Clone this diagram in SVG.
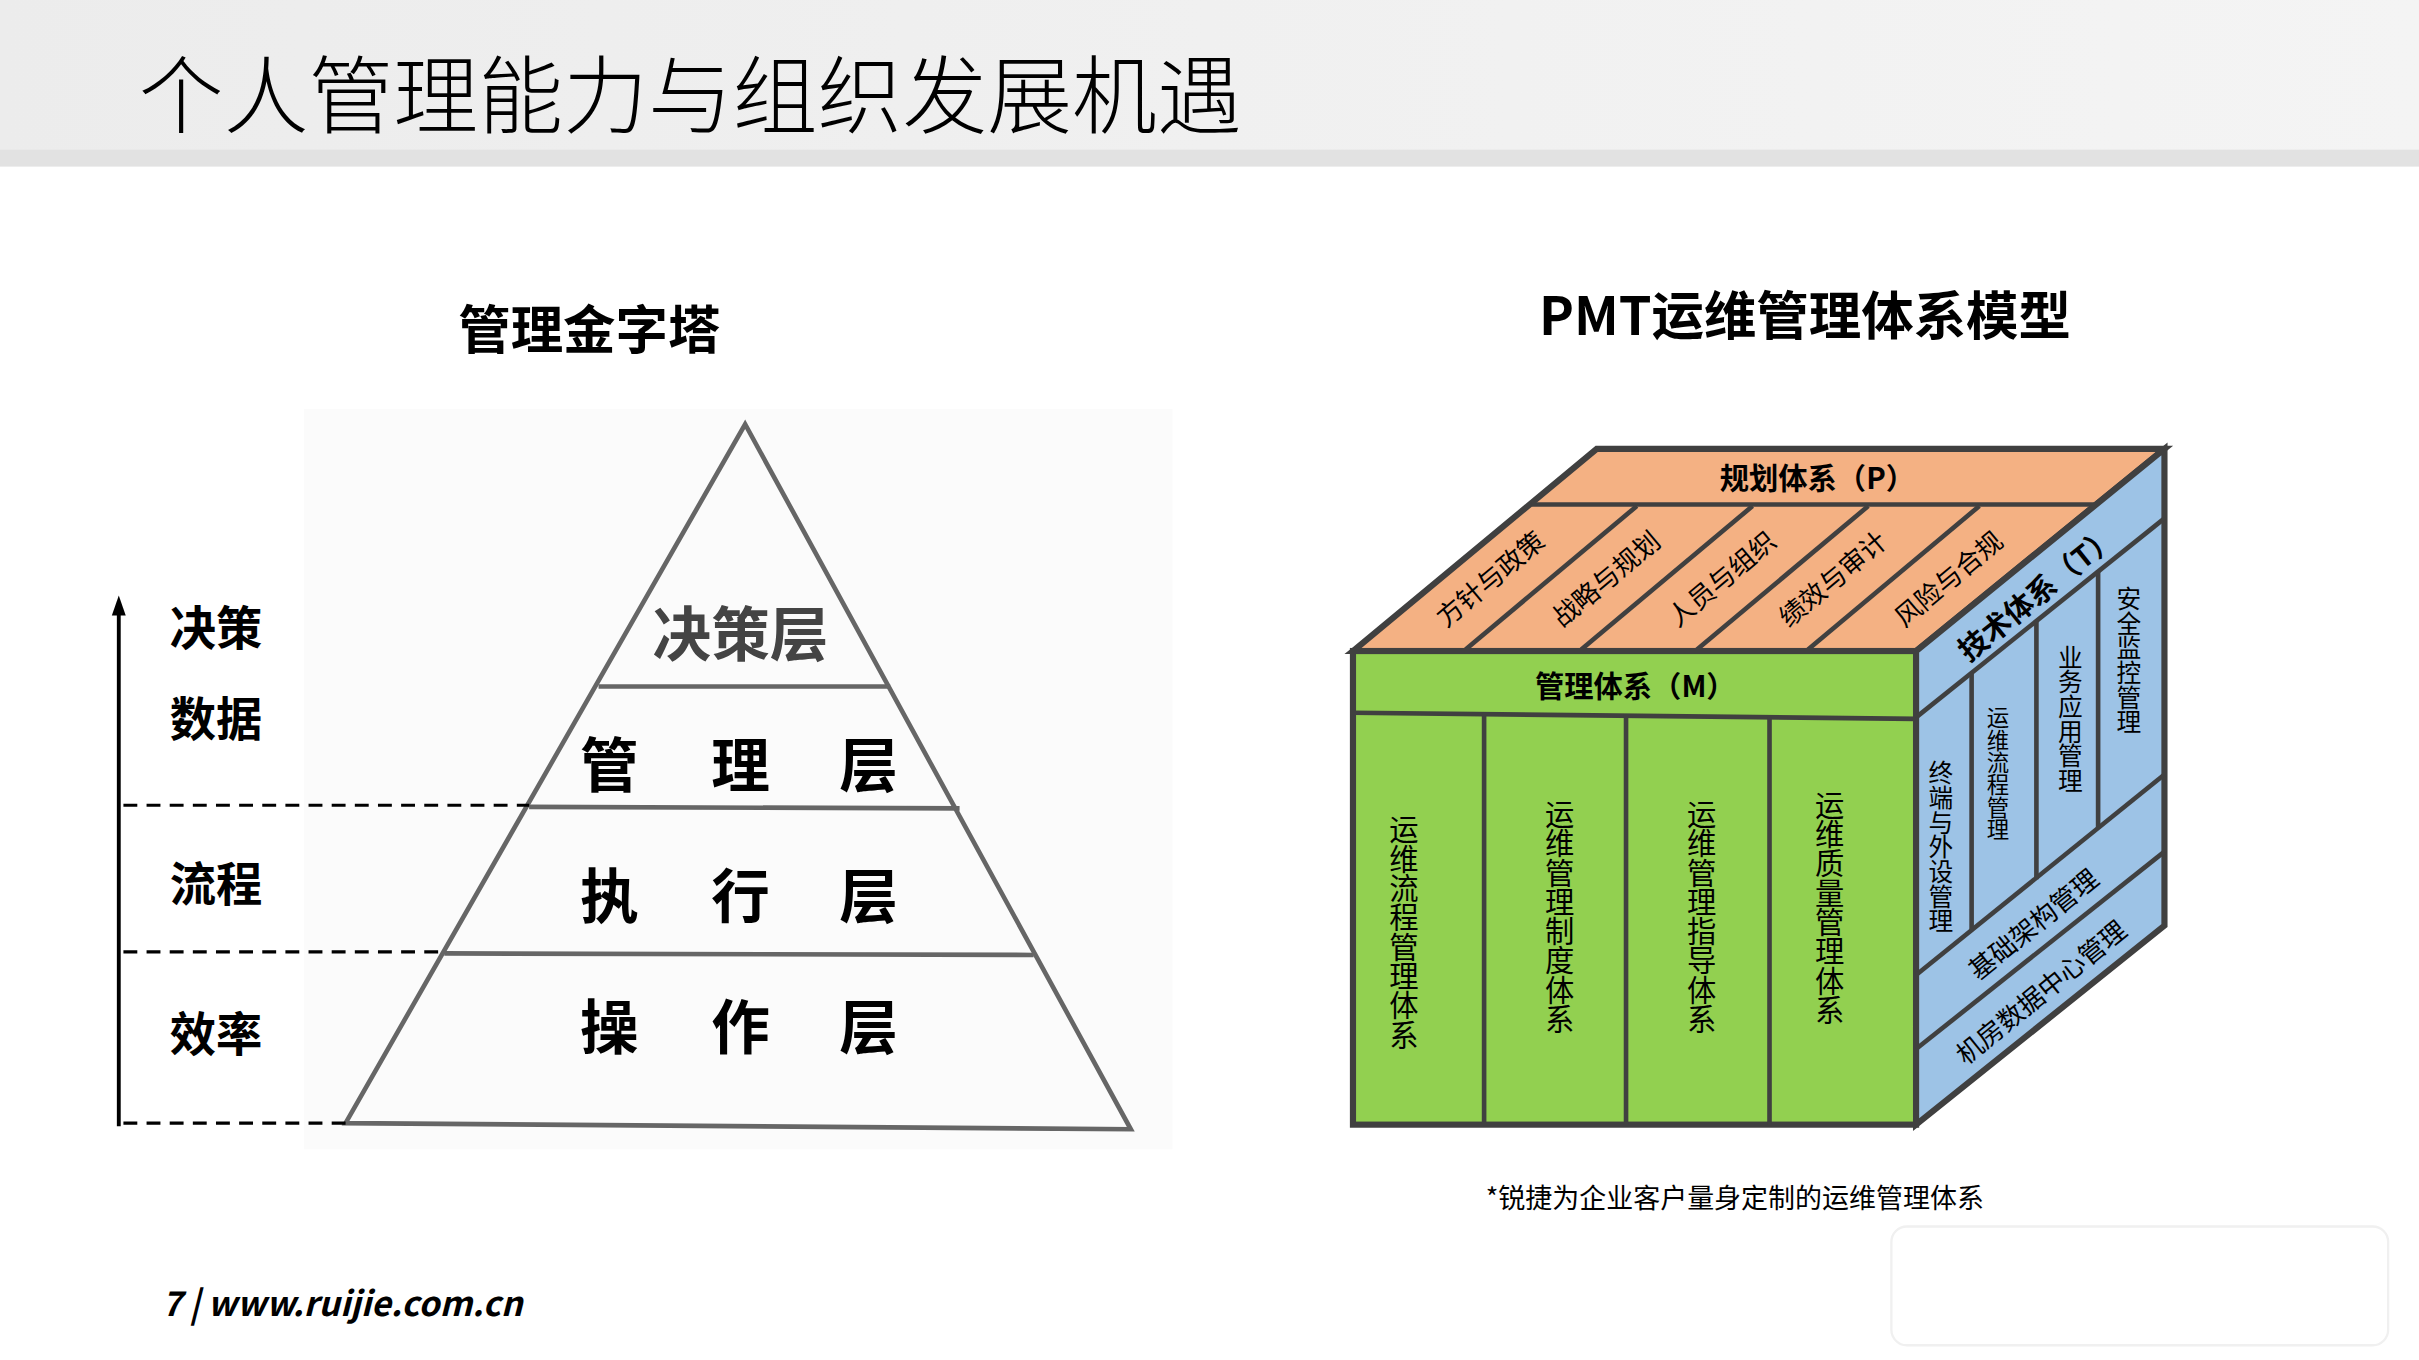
<svg xmlns="http://www.w3.org/2000/svg" width="2419" height="1360" viewBox="0 0 2419 1360">
<defs>
<linearGradient id="hdr" x1="0" y1="0" x2="1" y2="0"><stop offset="0" stop-color="#ececec"/><stop offset="1" stop-color="#f4f4f4"/></linearGradient>
</defs>
<style>
text{font-family:"Noto Sans CJK SC","Noto Sans",sans-serif;fill:#000}
.b{font-weight:700}
.pl{stroke:#666;stroke-width:3;fill:none}
.py{font-size:38px;font-weight:700;fill:#444;text-anchor:middle}
.lb{font-size:30px;font-weight:700}
.dash{stroke:#000;stroke-width:2;stroke-dasharray:9 6}
.edge{stroke:#404040;stroke-width:3;fill:none}
.vt{writing-mode:tb;font-size:19px}
.it{font-size:17px;text-anchor:middle}
</style>
<rect width="2419" height="1360" fill="#fff"/>
<g transform="scale(1.54273)">
<rect x="0" y="0" width="1568" height="100" fill="url(#hdr)"/>
<rect x="0" y="97" width="1568" height="11" fill="#e2e2e2"/>
<text x="90" y="82" font-size="55" font-weight="300">个人管理能力与组织发展机遇</text>
<text x="382" y="226" font-size="34" class="b" text-anchor="middle">管理金字塔</text>
<text x="1170" y="217" font-size="34" class="b" text-anchor="middle">PMT运维管理体系模型</text>

<g id="pyramid">
<rect x="197" y="265" width="563" height="480" fill="#fbfbfb"/>
<path class="pl" d="M224 728 L483 275 L733 732 Z"/>
<line class="pl" x1="388" y1="445" x2="577" y2="445"/>
<line class="pl" x1="343" y1="523" x2="622" y2="524"/>
<line class="pl" x1="288" y1="618" x2="670" y2="619"/>
<text class="py" x="480" y="425">决策层</text>
<g class="py">
<text x="395" y="510">管</text><text x="480" y="510">理</text><text x="563" y="510">层</text>
<text x="395" y="595">执</text><text x="480" y="595">行</text><text x="563" y="595">层</text>
<text x="395" y="680">操</text><text x="480" y="680">作</text><text x="563" y="680">层</text>
</g>
</g>
<g id="axis">
<line x1="77" y1="730" x2="77" y2="398" stroke="#000" stroke-width="2.5"/>
<polygon points="77,386 81.5,399 72.5,399" fill="#000"/>
<line class="dash" x1="80" y1="522" x2="343" y2="522"/>
<line class="dash" x1="80" y1="617" x2="290" y2="617"/>
<line class="dash" x1="80" y1="728" x2="224" y2="728"/>
<text class="lb" x="110" y="418">决策</text>
<text class="lb" x="110" y="477">数据</text>
<text class="lb" x="110" y="584">流程</text>
<text class="lb" x="110" y="681">效率</text>
</g>

<g id="cube-top">
<path d="M877 422 L1035 291 L1403 291 L1242 422 Z" fill="#f4b183" stroke="#404040" stroke-width="4"/>
<line class="edge" x1="993" y1="327" x2="1359" y2="327"/>
<line class="edge" x1="950" y1="421" x2="1061" y2="328"/>
<line class="edge" x1="1025" y1="421" x2="1136" y2="328"/>
<line class="edge" x1="1100" y1="421" x2="1211" y2="328"/>
<line class="edge" x1="1172" y1="421" x2="1283" y2="328"/>
<text x="1178" y="317" font-size="19" class="b" text-anchor="middle">规划体系（P）</text>
<g class="it">
<text transform="translate(970,380) rotate(-40)">方针与政策</text>
<text transform="translate(1045,380) rotate(-40)">战略与规划</text>
<text transform="translate(1120,380) rotate(-40)">人员与组织</text>
<text transform="translate(1192,380) rotate(-40)">绩效与审计</text>
<text transform="translate(1267,380) rotate(-40)">风险与合规</text>
</g>
</g>

<g id="cube-front">
<rect x="877" y="422" width="365" height="307" fill="#92d050" stroke="#404040" stroke-width="4"/>
<path class="edge" d="M877 462 L1242 466"/>
<line class="edge" x1="962" y1="463" x2="962" y2="729"/>
<line class="edge" x1="1054" y1="464" x2="1054" y2="729"/>
<line class="edge" x1="1147" y1="465" x2="1147" y2="729"/>
<text x="1060" y="452" font-size="19" class="b" text-anchor="middle">管理体系（M）</text>
<text class="vt" x="910" y="528">运维流程管理体系</text>
<text class="vt" x="1011" y="518">运维管理制度体系</text>
<text class="vt" x="1103" y="518">运维管理指导体系</text>
<text class="vt" x="1186" y="512">运维质量管理体系</text>
</g>

<g id="cube-right">
<path d="M1242 422 L1403 291 L1403 600 L1242 729 Z" fill="#9dc3e6" stroke="#404040" stroke-width="4"/>
<line class="edge" x1="1242" y1="465" x2="1403" y2="336"/>
<line class="edge" x1="1242" y1="632" x2="1403" y2="502"/>
<line class="edge" x1="1242" y1="680" x2="1403" y2="552"/>
<line class="edge" x1="1278" y1="436" x2="1278" y2="603"/>
<line class="edge" x1="1320" y1="403" x2="1320" y2="570"/>
<line class="edge" x1="1360" y1="370" x2="1360" y2="537"/>
<text transform="translate(1325,390) rotate(-39)" font-size="19" class="b" text-anchor="middle">技术体系（T）</text>
<text class="vt" x="1258" y="493" style="font-size:16px">终端与外设管理</text>
<text class="vt" x="1295" y="458" style="font-size:14.5px">运维流程管理</text>
<text class="vt" x="1342" y="418" style="font-size:16px">业务应用管理</text>
<text class="vt" x="1380" y="380" style="font-size:16px">安全监控管理</text>
<text class="it" transform="translate(1322,604) rotate(-39)">基础架构管理</text>
<text class="it" transform="translate(1327,648) rotate(-39)">机房数据中心管理</text>
</g>

<text x="963" y="783" font-size="17.5">*锐捷为企业客户量身定制的运维管理体系</text>
<rect x="1226" y="795" width="322" height="77" rx="10" fill="none" stroke="#f0f0f0" stroke-width="1.5"/>
<text x="105" y="853" font-size="22" font-weight="700" font-style="italic" font-family="Liberation Sans,sans-serif">7 | www.ruijie.com.cn</text>
</g>
</svg>
